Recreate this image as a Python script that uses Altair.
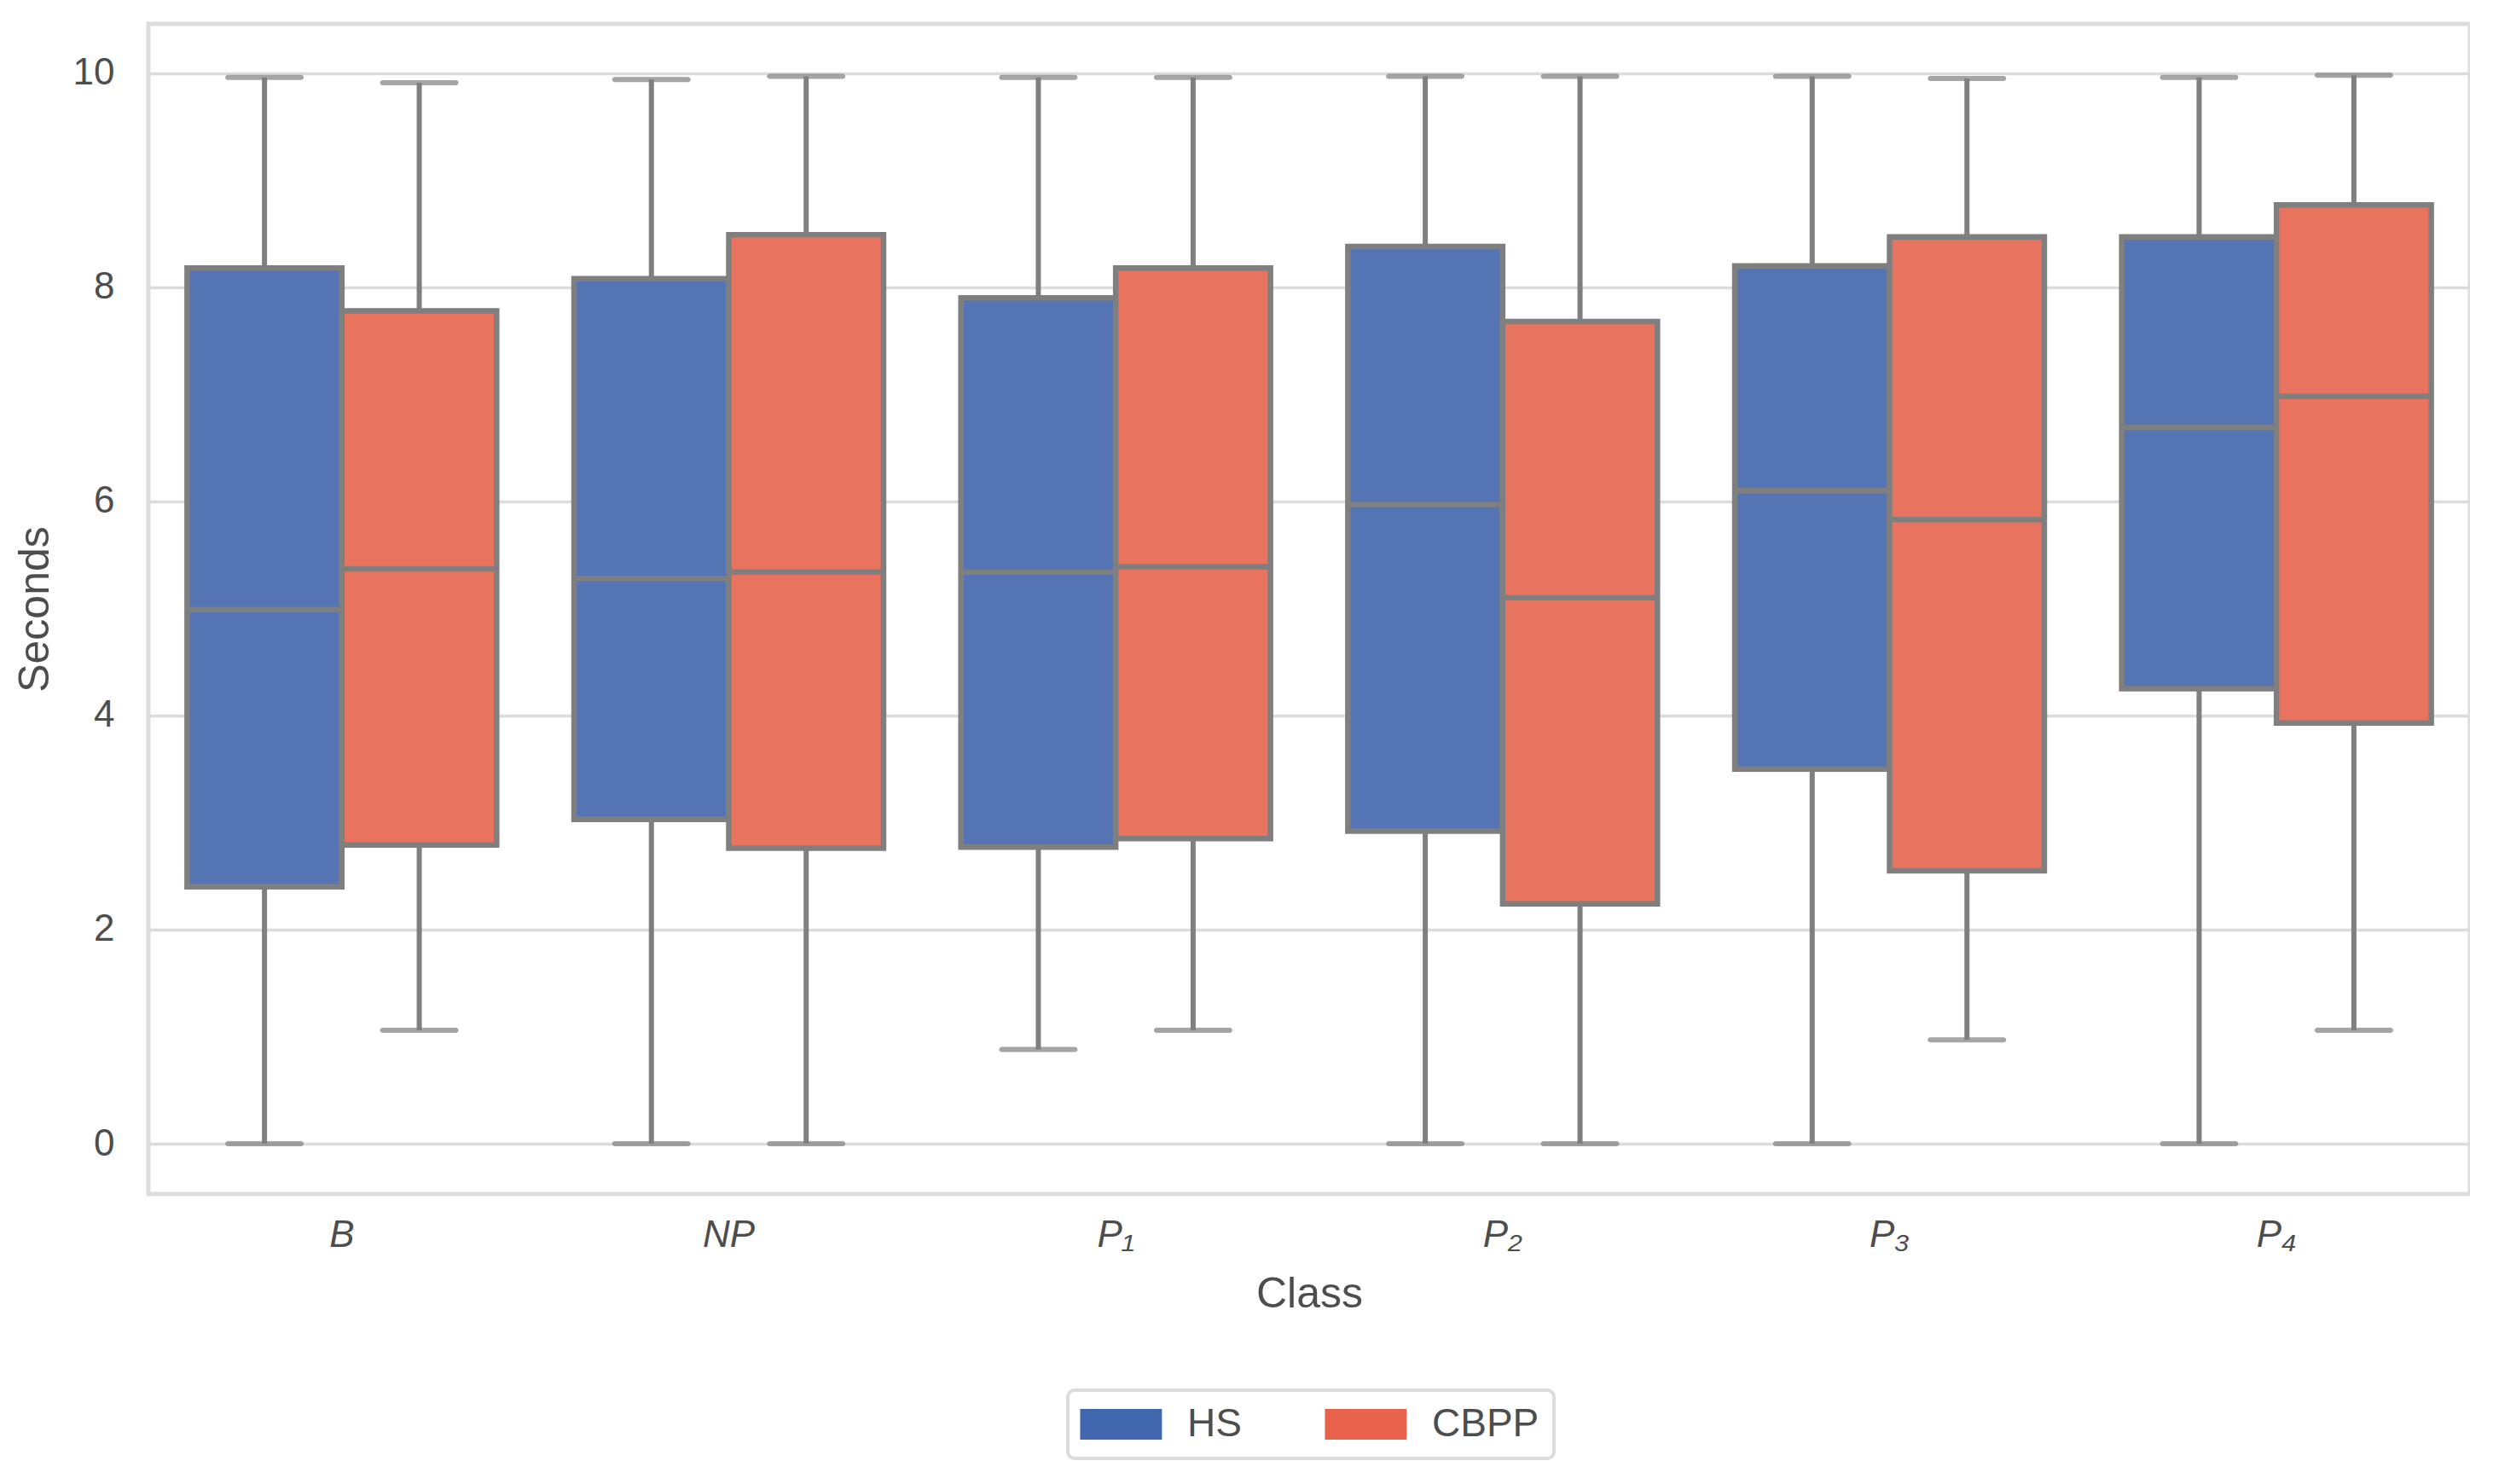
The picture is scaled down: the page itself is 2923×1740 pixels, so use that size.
import altair as alt
import pandas as pd

classes = ["B", "NP", "P₁", "P₂", "P₃", "P₄"]
methods = ["HS", "CBPP"]

hs_lo = [0.0, 0.0, 0.88, 0.0, 0.0, 0.0]
hs_q1 = [2.40, 3.03, 2.77, 2.92, 3.50, 4.25]
hs_med = [4.99, 5.28, 5.34, 5.97, 6.10, 6.69]
hs_q3 = [8.18, 8.08, 7.90, 8.38, 8.20, 8.47]
hs_hi = [9.96, 9.94, 9.96, 9.97, 9.97, 9.96]

cb_lo = [1.06, 0.0, 1.06, 0.0, 0.97, 1.06]
cb_q1 = [2.79, 2.76, 2.85, 2.24, 2.55, 3.93]
cb_med = [5.37, 5.34, 5.39, 5.10, 5.83, 6.98]
cb_q3 = [7.78, 8.49, 8.18, 7.68, 8.47, 8.77]
cb_hi = [9.91, 9.97, 9.96, 9.97, 9.95, 9.98]

box_fill = ["#5574b4", "#e8735f"]
legend_fill = ["#4067ae", "#e9624c"]
edge = "#7f7f7f"
text_color = "#4d4d4d"
font = "Liberation Sans"

rows = []
for i, c in enumerate(classes):
    rows.append(dict(Class=c, Method="HS", Series="HS", lo=hs_lo[i], q1=hs_q1[i], med=hs_med[i], q3=hs_q3[i], hi=hs_hi[i]))
    rows.append(dict(Class=c, Method="CBPP", Series="CBPP", lo=cb_lo[i], q1=cb_q1[i], med=cb_med[i], q3=cb_q3[i], hi=cb_hi[i]))
df = pd.DataFrame(rows)

x_enc = alt.X("Class:N", sort=classes, title="Class",
              scale=alt.Scale(paddingInner=0, paddingOuter=0),
              axis=alt.Axis(labelAngle=0, labelFontStyle="italic", labelPadding=26, titlePadding=22))
xo_enc = alt.XOffset("Method:N", sort=methods,
                     scale=alt.Scale(domain=methods, paddingInner=0, paddingOuter=0.25))
y_scale = alt.Scale(domain=[-0.47, 10.46], nice=False, zero=False)

base = alt.Chart(df)

whisk_low = base.mark_rule(color=edge, strokeWidth=6).encode(
    x=x_enc, xOffset=xo_enc,
    y=alt.Y("lo:Q", scale=y_scale, title="Seconds",
            axis=alt.Axis(values=[0, 2, 4, 6, 8, 10], format="d", labelPadding=40, titlePadding=19)),
    y2="q1:Q")
whisk_high = base.mark_rule(color=edge, strokeWidth=6).encode(
    x=x_enc, xOffset=xo_enc, y=alt.Y("q3:Q", scale=y_scale), y2="hi:Q")

boxes = base.mark_bar(stroke=edge, strokeWidth=6.5).encode(
    x=x_enc, xOffset=xo_enc,
    y=alt.Y("q1:Q", scale=y_scale), y2="q3:Q",
    fill=alt.Fill("Method:N", scale=alt.Scale(domain=methods, range=box_fill), legend=None))

medians = base.mark_bar(stroke=edge, strokeWidth=6.5, fillOpacity=0).encode(
    x=x_enc, xOffset=xo_enc,
    y=alt.Y("med:Q", scale=y_scale), y2="med:Q")

cap_lo = base.mark_tick(color=edge, orient="horizontal", size=92, thickness=6, cornerRadius=3).encode(
    x=x_enc, xOffset=xo_enc, y=alt.Y("lo:Q", scale=y_scale))
cap_hi = base.mark_tick(color=edge, orient="horizontal", size=92, thickness=6, cornerRadius=3).encode(
    x=x_enc, xOffset=xo_enc, y=alt.Y("hi:Q", scale=y_scale))

legend_layer = base.mark_point(filled=True, size=1, opacity=0.001).encode(
    x=x_enc, xOffset=xo_enc, y=alt.Y("med:Q", scale=y_scale),
    color=alt.Color("Series:N", sort=methods,
                    scale=alt.Scale(domain=methods, range=legend_fill),
                    legend=alt.Legend(
                        title=None, orient="none", direction="horizontal",
                        legendX=1078, legendY=1602,
                        symbolType="M-1.42,-1L3.91,-1L3.91,1L-1.42,1Z",
                        symbolSize=1296, symbolStrokeWidth=0, symbolOpacity=1,
                        labelFontSize=46, labelFont=font, labelColor=text_color,
                        labelOffset=77, columnPadding=97, padding=17,
                        strokeColor="#dcdcdc", fillColor="white", cornerRadius=8)))

chart = alt.layer(whisk_low, whisk_high, boxes, medians, cap_lo, cap_hi, legend_layer).properties(
    width=2722, height=1372, padding={"left": 8, "top": 20, "right": 0, "bottom": 0}
).resolve_scale(color="independent", fill="independent").configure_view(
    stroke="#dcdcdc", strokeWidth=5
).configure_legend(
    strokeWidth=4
).configure_axis(
    labelFont=font, titleFont=font, labelFontSize=44, titleFontSize=50,
    labelColor=text_color, titleColor=text_color, titleFontWeight="normal",
    ticks=False, domain=False, grid=False
).configure_axisY(
    grid=True, gridColor="#dcdcdc", gridWidth=3.5
)

chart.save("out.html", embed_options={"renderer": "svg", "actions": False})
